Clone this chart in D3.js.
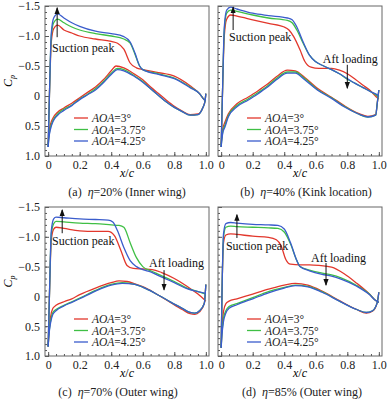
<!DOCTYPE html>
<meta charset="utf-8">
<script src="https://d3js.org/d3.v7.min.js"></script>
<style>body{margin:0;background:#fff}</style>
<svg id="chart" width="390" height="399"></svg>
<script>

// Axis ticks
var xMajor = [0, 0.2, 0.4, 0.6, 0.8, 1.0];
var yMajor = [-1.5, -1.0, -0.5, 0, 0.5, 1.0];
var aoaNames = ["3", "3.75", "4.25"];

// (a) eta=20%  [x/c, Cp]
var aUp3   = [[0,0.85],[0.008,0],[0.02,-0.9],[0.035,-1.12],[0.06,-1.18],[0.1,-1.1],[0.15,-1.05],[0.2,-1.0],[0.3,-0.95],[0.4,-0.91],[0.44,-0.88],[0.48,-0.78],[0.52,-0.55],[0.56,-0.47],[0.6,-0.44],[0.7,-0.39],[0.8,-0.33],[0.9,-0.17],[0.96,-0.04],[0.99,0.06],[1.0,0.07]];
var aUp375 = [[0,0.85],[0.008,0],[0.02,-1.0],[0.035,-1.22],[0.06,-1.28],[0.1,-1.22],[0.15,-1.15],[0.2,-1.1],[0.3,-1.04],[0.4,-1.0],[0.48,-0.95],[0.52,-0.88],[0.55,-0.7],[0.58,-0.5],[0.6,-0.44],[0.7,-0.37],[0.8,-0.3],[0.9,-0.15],[0.96,-0.04],[0.99,0.06],[1.0,0.07]];
var aUp425 = [[0,0.85],[0.008,0],[0.02,-1.05],[0.035,-1.3],[0.06,-1.37],[0.1,-1.3],[0.15,-1.22],[0.2,-1.16],[0.3,-1.08],[0.4,-1.04],[0.48,-0.99],[0.52,-0.9],[0.55,-0.72],[0.58,-0.5],[0.6,-0.44],[0.7,-0.36],[0.8,-0.29],[0.9,-0.14],[0.96,-0.04],[0.99,0.06],[1.0,0.07]];
var aLo3   = [[0,0.8],[0.005,0.62],[0.015,0.47],[0.03,0.37],[0.06,0.27],[0.1,0.2],[0.15,0.12],[0.2,0.03],[0.25,-0.06],[0.3,-0.15],[0.35,-0.27],[0.4,-0.42],[0.43,-0.5],[0.48,-0.47],[0.55,-0.36],[0.6,-0.27],[0.65,-0.15],[0.7,-0.04],[0.75,0.07],[0.8,0.17],[0.85,0.25],[0.9,0.31],[0.95,0.3],[0.98,0.2],[0.995,0.08],[1.0,-0.04]];
var aLo375 = [[0,0.83],[0.005,0.67],[0.015,0.52],[0.03,0.41],[0.06,0.3],[0.1,0.22],[0.15,0.15],[0.2,0.05],[0.25,-0.03],[0.3,-0.12],[0.35,-0.24],[0.4,-0.38],[0.44,-0.46],[0.48,-0.44],[0.55,-0.33],[0.6,-0.24],[0.65,-0.12],[0.7,-0.01],[0.75,0.1],[0.8,0.19],[0.85,0.26],[0.9,0.32],[0.95,0.31],[0.98,0.2],[0.995,0.08],[1.0,-0.04]];
var aLo425 = [[0,0.85],[0.005,0.7],[0.015,0.55],[0.03,0.43],[0.06,0.32],[0.1,0.24],[0.15,0.16],[0.2,0.06],[0.25,-0.02],[0.3,-0.1],[0.35,-0.22],[0.4,-0.36],[0.44,-0.44],[0.48,-0.42],[0.55,-0.32],[0.6,-0.23],[0.65,-0.12],[0.7,-0.01],[0.75,0.1],[0.8,0.19],[0.85,0.26],[0.9,0.32],[0.95,0.31],[0.98,0.2],[0.995,0.08],[1.0,-0.04]];

// (b) eta=40%
var bUp3   = [[0,0.85],[0.008,0],[0.02,-1.0],[0.035,-1.28],[0.06,-1.35],[0.1,-1.33],[0.2,-1.27],[0.3,-1.21],[0.4,-1.15],[0.43,-1.1],[0.46,-0.99],[0.5,-0.77],[0.53,-0.58],[0.57,-0.48],[0.62,-0.46],[0.7,-0.46],[0.75,-0.43],[0.8,-0.37],[0.85,-0.28],[0.9,-0.18],[0.95,-0.08],[0.99,0.03],[1.0,0.05]];
var bUp375 = [[0,0.85],[0.008,0],[0.02,-1.1],[0.035,-1.38],[0.06,-1.43],[0.1,-1.41],[0.2,-1.35],[0.3,-1.3],[0.42,-1.26],[0.45,-1.22],[0.48,-1.1],[0.52,-0.88],[0.56,-0.68],[0.6,-0.57],[0.65,-0.5],[0.7,-0.44],[0.75,-0.37],[0.8,-0.28],[0.85,-0.21],[0.9,-0.14],[0.95,-0.07],[0.99,0.0],[1.0,0.02]];
var bUp425 = [[0,0.85],[0.008,0],[0.02,-1.15],[0.035,-1.43],[0.06,-1.48],[0.1,-1.45],[0.2,-1.38],[0.3,-1.34],[0.42,-1.3],[0.45,-1.27],[0.48,-1.15],[0.52,-0.9],[0.56,-0.68],[0.6,-0.57],[0.65,-0.5],[0.7,-0.44],[0.75,-0.37],[0.8,-0.29],[0.85,-0.21],[0.9,-0.14],[0.95,-0.07],[0.99,-0.02],[1.0,0.0]];
var bLo3   = [[0,0.8],[0.01,0.55],[0.025,0.43],[0.045,0.3],[0.1,0.13],[0.17,0.02],[0.23,-0.08],[0.29,-0.19],[0.35,-0.32],[0.42,-0.43],[0.47,-0.42],[0.53,-0.31],[0.61,-0.13],[0.7,0.02],[0.78,0.16],[0.87,0.29],[0.93,0.34],[0.98,0.31],[0.99,0.12],[1.0,-0.1]];
var bLo375 = [[0,0.83],[0.01,0.6],[0.025,0.48],[0.045,0.33],[0.1,0.16],[0.17,0.05],[0.23,-0.05],[0.29,-0.16],[0.35,-0.29],[0.42,-0.4],[0.47,-0.4],[0.53,-0.29],[0.61,-0.11],[0.7,0.03],[0.78,0.17],[0.87,0.3],[0.93,0.35],[0.98,0.32],[0.99,0.12],[1.0,-0.1]];
var bLo425 = [[0,0.85],[0.01,0.62],[0.025,0.51],[0.045,0.35],[0.1,0.18],[0.17,0.07],[0.23,-0.03],[0.29,-0.14],[0.35,-0.27],[0.42,-0.38],[0.47,-0.38],[0.53,-0.27],[0.61,-0.1],[0.7,0.04],[0.78,0.18],[0.87,0.3],[0.93,0.35],[0.98,0.32],[0.99,0.12],[1.0,-0.1]];

// (c) eta=70%
var cUp3   = [[0,0.84],[0.008,0],[0.02,-0.95],[0.035,-1.13],[0.05,-1.16],[0.1,-1.14],[0.2,-1.1],[0.3,-1.09],[0.38,-1.09],[0.42,-1.02],[0.46,-0.78],[0.5,-0.52],[0.54,-0.47],[0.6,-0.46],[0.66,-0.45],[0.72,-0.4],[0.8,-0.3],[0.88,-0.17],[0.95,-0.04],[1.0,0.08]];
var cUp375 = [[0,0.84],[0.008,0],[0.02,-1.05],[0.035,-1.22],[0.05,-1.26],[0.1,-1.25],[0.2,-1.23],[0.3,-1.22],[0.4,-1.2],[0.45,-1.19],[0.48,-1.16],[0.52,-0.9],[0.56,-0.65],[0.6,-0.5],[0.65,-0.43],[0.7,-0.37],[0.75,-0.31],[0.8,-0.25],[0.88,-0.14],[0.95,-0.08],[1.0,-0.04]];
var cUp425 = [[0,0.84],[0.008,0],[0.02,-1.1],[0.035,-1.3],[0.05,-1.33],[0.1,-1.32],[0.2,-1.3],[0.3,-1.29],[0.38,-1.28],[0.41,-1.25],[0.44,-1.1],[0.48,-0.82],[0.52,-0.6],[0.56,-0.5],[0.6,-0.45],[0.65,-0.41],[0.7,-0.35],[0.75,-0.29],[0.8,-0.23],[0.88,-0.13],[0.95,-0.08],[1.0,-0.05]];
var cLo3   = [[0,0.84],[0.005,0.6],[0.015,0.35],[0.03,0.2],[0.05,0.15],[0.1,0.09],[0.15,0.04],[0.2,-0.03],[0.3,-0.14],[0.4,-0.23],[0.45,-0.26],[0.5,-0.25],[0.55,-0.21],[0.62,-0.14],[0.7,-0.02],[0.78,0.11],[0.85,0.22],[0.9,0.29],[0.93,0.3],[0.96,0.26],[0.99,0.12],[1.0,-0.2]];
var cLo375 = [[0,0.84],[0.005,0.63],[0.015,0.42],[0.03,0.27],[0.05,0.22],[0.1,0.15],[0.15,0.09],[0.2,0.03],[0.3,-0.1],[0.4,-0.2],[0.47,-0.23],[0.55,-0.2],[0.62,-0.13],[0.7,-0.02],[0.78,0.1],[0.85,0.2],[0.9,0.27],[0.93,0.28],[0.96,0.24],[0.99,0.12],[1.0,-0.2]];
var cLo425 = [[0,0.84],[0.005,0.65],[0.015,0.45],[0.03,0.3],[0.05,0.24],[0.1,0.16],[0.15,0.1],[0.2,0.04],[0.3,-0.09],[0.4,-0.19],[0.47,-0.22],[0.55,-0.2],[0.62,-0.13],[0.7,-0.02],[0.78,0.1],[0.85,0.2],[0.9,0.27],[0.93,0.28],[0.96,0.24],[0.99,0.12],[1.0,-0.2]];

// (d) eta=85%
var dUp3   = [[0,0.86],[0.005,0],[0.015,-0.9],[0.03,-1.03],[0.06,-1.05],[0.1,-1.04],[0.2,-1.01],[0.3,-0.99],[0.35,-0.95],[0.38,-0.85],[0.41,-0.62],[0.44,-0.54],[0.5,-0.53],[0.56,-0.53],[0.62,-0.52],[0.7,-0.49],[0.78,-0.38],[0.86,-0.22],[0.94,-0.04],[0.98,0.07],[1.0,0.1]];
var dUp375 = [[0,0.86],[0.005,0],[0.015,-1.0],[0.03,-1.16],[0.06,-1.18],[0.1,-1.17],[0.2,-1.16],[0.3,-1.15],[0.36,-1.14],[0.4,-1.08],[0.44,-0.88],[0.48,-0.6],[0.5,-0.5],[0.56,-0.44],[0.64,-0.39],[0.7,-0.36],[0.76,-0.31],[0.86,-0.18],[0.94,-0.04],[0.98,0.07],[1.0,0.1]];
var dUp425 = [[0,0.86],[0.005,0],[0.015,-1.05],[0.03,-1.22],[0.06,-1.24],[0.1,-1.23],[0.2,-1.21],[0.3,-1.2],[0.36,-1.19],[0.4,-1.13],[0.44,-0.9],[0.48,-0.6],[0.5,-0.5],[0.56,-0.43],[0.64,-0.37],[0.7,-0.34],[0.76,-0.29],[0.86,-0.17],[0.94,-0.03],[0.98,0.07],[1.0,0.1]];
var dLo3   = [[0,0.86],[0.005,0.55],[0.015,0.25],[0.03,0.12],[0.05,0.08],[0.1,0.04],[0.2,-0.04],[0.3,-0.12],[0.4,-0.19],[0.47,-0.22],[0.55,-0.19],[0.64,-0.09],[0.75,0.07],[0.86,0.22],[0.92,0.28],[0.96,0.25],[0.99,0.1],[1.0,-0.07]];
var dLo375 = [[0,0.86],[0.005,0.62],[0.015,0.37],[0.03,0.24],[0.05,0.17],[0.1,0.12],[0.2,0.02],[0.3,-0.08],[0.4,-0.15],[0.47,-0.19],[0.55,-0.17],[0.64,-0.08],[0.75,0.08],[0.86,0.22],[0.92,0.27],[0.96,0.24],[0.99,0.1],[1.0,-0.07]];
var dLo425 = [[0,0.86],[0.005,0.65],[0.015,0.42],[0.03,0.28],[0.05,0.2],[0.1,0.14],[0.2,0.04],[0.3,-0.06],[0.4,-0.14],[0.47,-0.18],[0.55,-0.16],[0.64,-0.07],[0.75,0.08],[0.86,0.22],[0.92,0.27],[0.96,0.24],[0.99,0.1],[1.0,-0.07]];

var colors = ["#e2372c", "#3fbf45", "#3a5ccc"];
var font = "Liberation Serif, Times New Roman, serif";

// panel layout (frame in px) + annotation anchors in data units
var panels = [
  {frame:[45,6,209,156], yLabels:true, up:[aUp3,aUp375,aUp425], lo:[aLo3,aLo375,aLo425],
   tag:"(a)", eta:"=20% (Inner wing)", capX:127, legX:74,
   peak:{tx:0.025, ty:-0.73, ax:0.057, a0:-0.98, a1:-1.47}, aft:null},
  {frame:[218,6,382,156], yLabels:false, up:[bUp3,bUp375,bUp425], lo:[bLo3,bLo375,bLo425],
   tag:"(b)", eta:"=40% (Kink location)", capX:306, legX:247,
   peak:{tx:0.05, ty:-0.92, ax:0.076, a0:-1.1, a1:-1.48},
   aft:{tx:0.645, ty:-0.55, ax:0.8, a0:-0.52, a1:-0.13}},
  {frame:[45,207,209,356], yLabels:true, up:[cUp3,cUp375,cUp425], lo:[cLo3,cLo375,cLo425],
   tag:"(c)", eta:"=70% (Outer wing)", capX:118, legX:74,
   peak:{tx:0.025, ty:-0.86, ax:0.089, a0:-1.06, a1:-1.45},
   aft:{tx:0.64, ty:-0.49, ax:0.735, a0:-0.44, a1:-0.11}},
  {frame:[218,207,382,356], yLabels:false, up:[dUp3,dUp375,dUp425], lo:[dLo3,dLo375,dLo425],
   tag:"(d)", eta:"=85% (Outer wing)", capX:302, legX:247,
   peak:{tx:0.03, ty:-0.78, ax:0.1, a0:-0.98, a1:-1.37},
   aft:{tx:0.57, ty:-0.58, ax:0.665, a0:-0.56, a1:-0.19}}
];

var svg = d3.select("#chart");

svg.append("defs").append("marker")
    .attr("id", "head")
    .attr("viewBox", "0 0 8 8")
    .attr("refX", 7).attr("refY", 4)
    .attr("markerWidth", 7).attr("markerHeight", 7)
    .attr("markerUnits", "userSpaceOnUse")
    .attr("orient", "auto")
  .append("path")
    .attr("d", "M0,1 L8,4 L0,7 z")
    .attr("fill", "#111");

panels.forEach(function(p) {
  var f = p.frame;
  var x = d3.scaleLinear().domain([-0.02, 1.02]).range([f[0], f[2]]);
  var y = d3.scaleLinear().domain([-1.5, 1.0]).range([f[1], f[3]]);
  var g = svg.append("g");

  // ticks, pointing inward
  g.append("g").attr("transform", "translate(0," + f[3] + ")")
      .call(d3.axisBottom(x).tickValues(xMajor).tickSize(-4).tickPadding(4)
        .tickFormat(function(d){ return d === 0 ? "0" : d3.format(".1f")(d); }));
  g.append("g").attr("transform", "translate(0," + f[3] + ")")
      .call(d3.axisBottom(x).tickValues(d3.range(0, 1.001, 0.05)).tickSize(-2).tickFormat(""));
  g.append("g").attr("transform", "translate(" + f[0] + ",0)")
      .call(d3.axisLeft(y).tickValues(yMajor).tickSize(-4).tickPadding(5)
        .tickFormat(function(d){ return p.yLabels ? (d === 0 ? "0" : d3.format(".1f")(d)) : ""; }));
  g.append("g").attr("transform", "translate(" + f[0] + ",0)")
      .call(d3.axisLeft(y).tickValues(d3.range(-1.5, 1.001, 0.1)).tickSize(-2).tickFormat(""));
  g.selectAll(".domain").remove();
  g.selectAll(".tick line").attr("stroke", "#555");
  g.selectAll(".tick text").attr("font-family", font).attr("font-size", 12).attr("fill", "#222");

  g.append("rect")
      .attr("x", f[0]).attr("y", f[1])
      .attr("width", f[2] - f[0]).attr("height", f[3] - f[1])
      .attr("fill", "none").attr("stroke", "#666").attr("stroke-width", 1);

  var line = d3.line().x(function(d){ return x(d[0]); }).y(function(d){ return y(d[1]); })
      .curve(d3.curveMonotoneX);

  [0, 1, 2].forEach(function(i) {
    g.append("path").attr("d", line(p.up[i]))
        .attr("fill", "none").attr("stroke", colors[i]).attr("stroke-width", 1.3);
    g.append("path").attr("d", line(p.lo[i]))
        .attr("fill", "none").attr("stroke", colors[i]).attr("stroke-width", 1.3);
  });

  // annotations
  function note(a, label) {
    g.append("line")
        .attr("x1", x(a.ax)).attr("y1", y(a.a0))
        .attr("x2", x(a.ax)).attr("y2", y(a.a1))
        .attr("stroke", "#111").attr("stroke-width", 1)
        .attr("marker-end", "url(#head)");
    g.append("text").attr("x", x(a.tx)).attr("y", y(a.ty))
        .attr("font-family", font).attr("font-size", 12).attr("fill", "#111")
        .text(label);
  }
  note(p.peak, "Suction peak");
  if (p.aft) note(p.aft, "Aft loading");

  // legend
  aoaNames.forEach(function(n, i) {
    var ly = f[1] + 112 + i * 11.5;
    g.append("line").attr("x1", p.legX).attr("x2", p.legX + 14)
        .attr("y1", ly).attr("y2", ly)
        .attr("stroke", colors[i]).attr("stroke-width", 1.3);
    g.append("text").attr("x", p.legX + 18).attr("y", ly + 4)
        .attr("font-family", font).attr("font-size", 11.5).attr("fill", "#222")
        .html('<tspan font-style="italic">AOA</tspan>=' + n + "\u00b0");
  });

  // axis titles
  var cx = (f[0] + f[2]) / 2;
  g.append("text").attr("x", cx).attr("y", f[3] + 21)
      .attr("text-anchor", "middle").attr("font-family", font).attr("font-size", 12)
      .html('<tspan font-style="italic">x</tspan>/<tspan font-style="italic">c</tspan>');

  if (p.yLabels) {
    g.append("text")
        .attr("transform", "translate(12," + ((f[1] + f[3]) / 2) + ") rotate(-90)")
        .attr("text-anchor", "middle").attr("font-family", font).attr("font-size", 12)
        .html('<tspan font-style="italic">C</tspan><tspan font-style="italic" font-size="8" dy="3">p</tspan>');
  }

  g.append("text").attr("x", p.capX).attr("y", f[3] + 40)
      .attr("text-anchor", "middle").attr("font-family", font).attr("font-size", 12).attr("fill", "#222")
      .html(p.tag + '\u00a0\u00a0<tspan font-style="italic">\u03b7</tspan>' + p.eta);
});

</script>
